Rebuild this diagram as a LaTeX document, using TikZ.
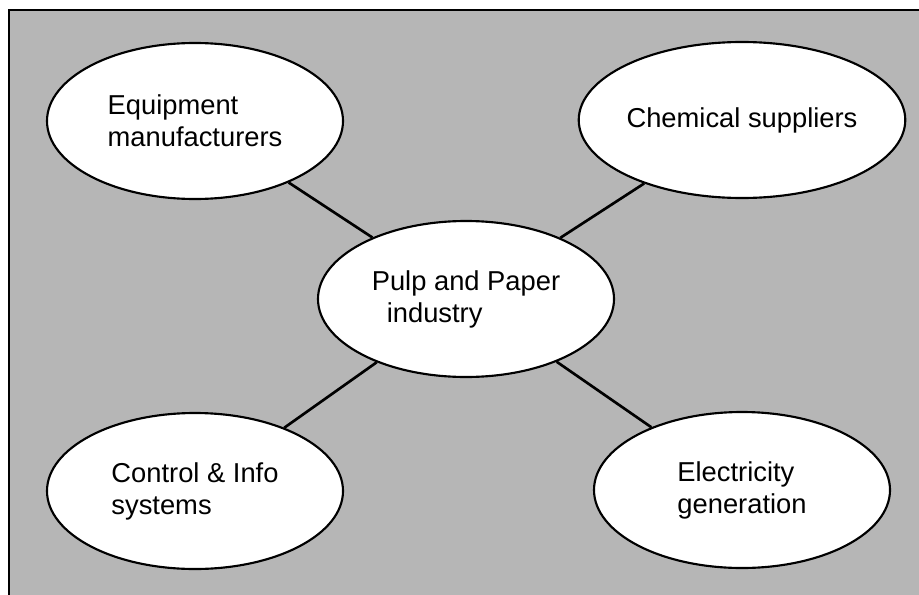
\documentclass[tikz,border=0pt]{standalone}
\usepackage{fontspec}
\setmainfont{Liberation Sans}
\usetikzlibrary{shapes.geometric}
\definecolor{panelgray}{RGB}{182,182,182}

\begin{document}
\begin{tikzpicture}[x=0.75pt, y=0.75pt,
    cluster/.style={ellipse, draw, line width=1.6pt, fill=white,
        minimum width=222pt, minimum height=117pt, inner sep=0pt,
        align=left, font=\fontsize{20.5}{24}\selectfont},
    link/.style={line width=2pt}]
    \useasboundingbox (0,0) rectangle (919,594);
    \clip (0,0) rectangle (919,594);

    % Shaded panel
    \draw[line width=2pt, fill=panelgray] (9,-20) rectangle (940,584);

    % Cluster members
    \node[cluster] (equip) at (195,473) {Equipment\\manufacturers};
    \node[cluster] (chem) at (742,474) {Chemical suppliers};
    \node[cluster] (pulp) at (466,295) {Pulp and Paper\\\hspace*{0.55em}industry};
    \node[cluster] (ctrl) at (195,103) {Control \& Info\\systems};
    \node[cluster] (elec) at (742,104) {Electricity\\generation};

    % Links to the core
    \draw[link] (equip) -- (pulp);
    \draw[link] (chem) -- (pulp);
    \draw[link] (ctrl) -- (pulp);
    \draw[link] (elec) -- (pulp);
\end{tikzpicture}
\end{document}
